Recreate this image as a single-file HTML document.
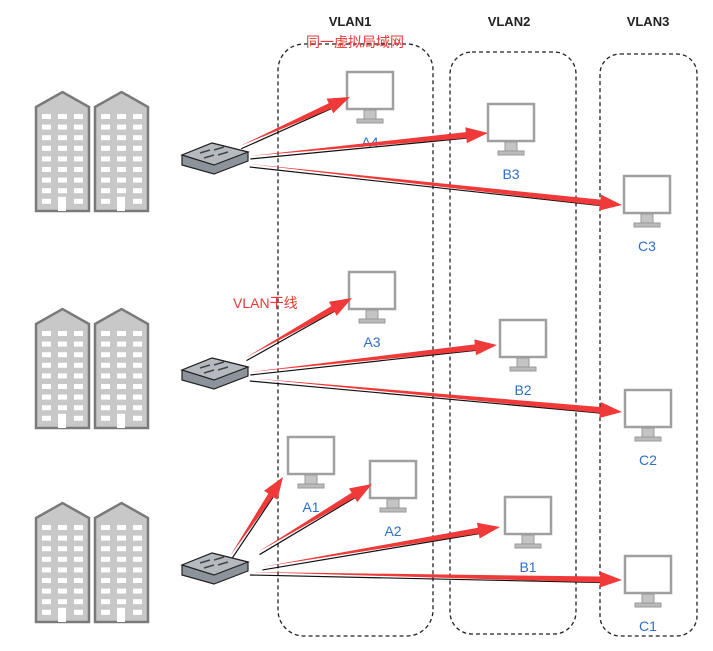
<!DOCTYPE html>
<html><head><meta charset="utf-8"><style>
body{margin:0;background:#fff;width:713px;height:651px;overflow:hidden}
svg{display:block}
text{font-family:"Liberation Sans","Noto Sans CJK SC",sans-serif}
</style></head><body>
<svg id="s" width="713" height="651" xmlns="http://www.w3.org/2000/svg">
<g fill="none" stroke="#222" stroke-width="1.3" stroke-dasharray="4,3">
<rect x="278" y="44" width="155" height="592" rx="26"/>
<rect x="450" y="52" width="126" height="582" rx="22"/>
<rect x="600" y="54" width="97" height="582" rx="20"/>
</g>
<g font-size="13" font-weight="bold" fill="#222" text-anchor="middle">
<text x="350" y="26">VLAN1</text><text x="509" y="26">VLAN2</text><text x="648" y="26">VLAN3</text>
</g>
<text x="355" y="47" font-size="14" fill="#e53935" text-anchor="middle">同一虚拟局域网</text>
<text x="233" y="308" font-size="14" fill="#e53935">VLAN干线</text>
<g id="g"></g>
</svg>
<script>
var g=document.getElementById('g'),h='';
function bld(x,y){var w=53;h+='<polygon points="'+x+','+(y+15)+' '+(x+w/2)+','+y+' '+(x+w)+','+(y+15)+' '+(x+w)+','+(y+119)+' '+x+','+(y+119)+'" fill="#c8c8c8" stroke="#7a7a7a" stroke-width="2.5"/>';
for(var r=0;r<9;r++)for(var c=0;c<3;c++){var wx=x+6+c*16,wy=y+22+r*10.6;
if(r==8&&c==1)h+='<rect x="'+wx+'" y="'+(wy-2)+'" width="8" height="'+(119-(wy-2-y))+'" fill="#fff"/>';else h+='<rect x="'+wx+'" y="'+wy+'" width="9" height="5" fill="#fff"/>';}}
[92,309,503].forEach(function(y){bld(36,y);bld(95,y);});
function sw(x,y){h+='<polygon points="'+x+','+(y+12)+' '+(x+30)+','+y+' '+(x+66)+','+(y+9)+' '+(x+66)+','+(y+18)+' '+(x+32)+','+(y+31)+' '+x+','+(y+22)+'" fill="#8d939b" stroke="#222" stroke-width="1.2"/>';
h+='<polygon points="'+x+','+(y+12)+' '+(x+30)+','+y+' '+(x+66)+','+(y+9)+' '+(x+32)+','+(y+22)+'" fill="#b5bac1" stroke="#222" stroke-width="1.2"/>';
h+='<g stroke="#444" stroke-width="1.5"><line x1="'+(x+18)+'" y1="'+(y+10)+'" x2="'+(x+28)+'" y2="'+(y+7)+'"/><line x1="'+(x+32)+'" y1="'+(y+7)+'" x2="'+(x+42)+'" y2="'+(y+4)+'"/><line x1="'+(x+22)+'" y1="'+(y+15)+'" x2="'+(x+32)+'" y2="'+(y+12)+'"/><line x1="'+(x+36)+'" y1="'+(y+12)+'" x2="'+(x+46)+'" y2="'+(y+9)+'"/></g>';}
sw(182,143);sw(182,358);sw(182,553);
function mon(x,y,l){h+='<rect x="'+x+'" y="'+y+'" width="46" height="37" fill="#fff" stroke="#a0a0a0" stroke-width="2.5"/><rect x="'+(x+17)+'" y="'+(y+38)+'" width="12" height="9" fill="#c4c4c4" stroke="#999"/><rect x="'+(x+10)+'" y="'+(y+47)+'" width="26" height="4" fill="#bbb" stroke="#999"/>';
h+='<text x="'+(x+23)+'" y="'+(y+75)+'" font-size="14" fill="#2f6fc4" text-anchor="middle">'+l+'</text>';}
mon(347,72,'A4');mon(488,104,'B3');mon(624,176,'C3');mon(349,272,'A3');mon(500,320,'B2');mon(625,390,'C2');mon(288,437,'A1');mon(370,461,'A2');mon(505,497,'B1');mon(625,556,'C1');
function arr(x1,y1,x2,y2){var dx=x2-x1,dy=y2-y1,L=Math.hypot(dx,dy),ux=dx/L,uy=dy/L,nx=-uy,ny=ux,hl=22,bx=x2-ux*hl,by=y2-uy*hl;
h+='<line x1="'+(x1+nx*3)+'" y1="'+(y1+ny*3)+'" x2="'+(bx+nx*3)+'" y2="'+(by+ny*3)+'" stroke="#111" stroke-width="1.2"/>';
var p=[[x1,y1],[bx+nx*3,by+ny*3],[bx+nx*8,by+ny*8],[x2,y2],[bx-nx*8,by-ny*8],[bx-nx*3,by-ny*3]];
h+='<polygon points="'+p.map(function(q){return q[0].toFixed(1)+','+q[1].toFixed(1)}).join(' ')+'" fill="#f03a3a"/>';}
arr(240,146,350,97);arr(250,156,488,133);arr(250,164,622,205);
arr(245,358,352,298);arr(250,372,497,345);arr(250,378,622,412);
arr(230,556,283,477);arr(258,552,372,484);arr(262,567,500,527);arr(250,572,622,580);
g.innerHTML=h;
</script>
</body></html>
